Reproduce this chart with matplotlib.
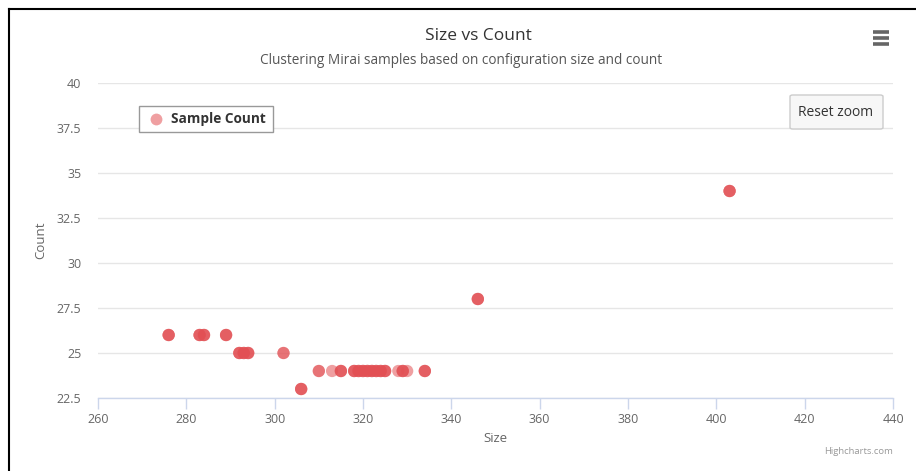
import matplotlib
matplotlib.use("Agg")
import matplotlib.pyplot as plt
from matplotlib.lines import Line2D
from matplotlib.patches import FancyBboxPatch, Rectangle
from matplotlib.ticker import FuncFormatter, MultipleLocator

plt.rcParams['font.family'] = ['Open Sans', 'DejaVu Sans']

# Data: (size, count) samples; repeated entries are overlapping samples
sizes = [276, 276, 276, 283, 283, 283, 284, 284, 284, 289, 289, 289,
         292, 292, 292, 293, 293, 293, 294, 294, 294, 302, 302,
         306, 306, 306,
         310, 310, 313, 315, 315, 315, 318, 318, 318, 319, 319, 319,
         320, 320, 320, 321, 321, 321, 322, 322, 322,
         323, 323, 323, 324, 324, 324, 325, 325, 325,
         328, 329, 329, 329, 330, 334, 334, 334,
         346, 346, 346, 403, 403, 403]
counts = [26, 26, 26, 26, 26, 26, 26, 26, 26, 26, 26, 26,
          25, 25, 25, 25, 25, 25, 25, 25, 25, 25, 25,
          23, 23, 23,
          24, 24, 24, 24, 24, 24, 24, 24, 24, 24, 24, 24,
          24, 24, 24, 24, 24, 24, 24, 24, 24,
          24, 24, 24, 24, 24, 24, 24, 24, 24,
          24, 24, 24, 24, 24, 24, 24, 24,
          28, 28, 28, 34, 34, 34]

series_name = "Sample Count"
title = "Size vs Count"
subtitle = "Clustering Mirai samples based on configuration size and count"
x_label = "Size"
y_label = "Count"

W, H = 916, 471
fig = plt.figure(figsize=(W / 100, H / 100), dpi=100)
ax = fig.add_axes([98 / W, 1 - 398 / H, (893 - 98) / W, (398 - 83) / H])

dot_color = (226 / 255, 80 / 255, 84 / 255)
ax.scatter(sizes, counts, s=78, color=dot_color, alpha=0.55, edgecolors='none',
           zorder=3, clip_on=False)

ax.set_xlim(260, 440)
ax.set_ylim(22.5, 40)
ax.xaxis.set_major_locator(MultipleLocator(20))
ax.yaxis.set_major_locator(MultipleLocator(2.5))
ax.yaxis.set_major_formatter(FuncFormatter(lambda v, p: f"{v:g}"))

for s in ['top', 'right', 'left']:
    ax.spines[s].set_visible(False)
ax.spines['bottom'].set_color('#ccd6eb')
ax.spines['bottom'].set_linewidth(1)
ax.grid(axis='y', color='#e6e6e6', linewidth=1)
ax.set_axisbelow(True)
ax.tick_params(axis='x', colors='#ccd6eb', length=8, width=1, direction='out',
               labelcolor='#666666', labelsize=9, pad=3)
ax.tick_params(axis='y', length=0, labelcolor='#666666', labelsize=9, pad=12)
ax.set_xlabel(x_label, color='#666666', fontsize=9.5, labelpad=4)
ax.set_ylabel(y_label, color='#666666', fontsize=9.5, labelpad=7)

# Title & subtitle
fig.text(478 / W, 1 - 36 / H, title, ha='center', va='center', fontsize=12.5, color='#333333')
fig.text(461 / W, 1 - 60 / H, subtitle, ha='center', va='center', fontsize=9.8, color='#555555')

# Legend box
leg_box = Rectangle((139 / W, 1 - 132 / H), (273 - 139) / W, (132 - 106) / H,
                    transform=fig.transFigure, facecolor='white', edgecolor='#999999',
                    linewidth=1, zorder=5)
fig.patches.append(leg_box)
fig.add_artist(Line2D([156 / W], [1 - 119 / H], marker='o', markersize=8.5,
                      color=dot_color, alpha=0.55, markeredgewidth=0,
                      transform=fig.transFigure, zorder=6))
fig.text(171 / W, 1 - 119 / H, series_name, ha='left', va='center', fontsize=9.8,
         fontweight='bold', color='#333333', zorder=6)

# Reset zoom button
btn = FancyBboxPatch((790 / W, 1 - 129 / H), (883 - 790) / W, (129 - 95) / H,
                     boxstyle="round,pad=0,rounding_size=0.003",
                     transform=fig.transFigure, facecolor='#f7f7f7', edgecolor='#cccccc',
                     linewidth=1, zorder=5)
fig.patches.append(btn)
fig.text(836 / W, 1 - 112 / H, "Reset zoom", ha='center', va='center', fontsize=10,
         color='#333333', zorder=6)

# Hamburger menu icon
for yy in (32, 38, 44):
    fig.add_artist(Line2D([873 / W, 889 / W], [1 - yy / H, 1 - yy / H], color='#666666',
                          linewidth=2.6, solid_capstyle='butt', transform=fig.transFigure))

# Credits
fig.text(893 / W, 1 - 451 / H, "Highcharts.com", ha='right', va='center', fontsize=6.8,
         color='#999999')

# Outer border (screenshot frame)
fig.add_artist(Line2D([8.5 / W, 8.5 / W], [0, 1 - 8.5 / H], color='black', linewidth=1.5,
                      transform=fig.transFigure))
fig.add_artist(Line2D([8.5 / W, 1], [1 - 8.5 / H, 1 - 8.5 / H], color='black', linewidth=1.5,
                      transform=fig.transFigure))

fig.savefig("out.png", dpi=100)
